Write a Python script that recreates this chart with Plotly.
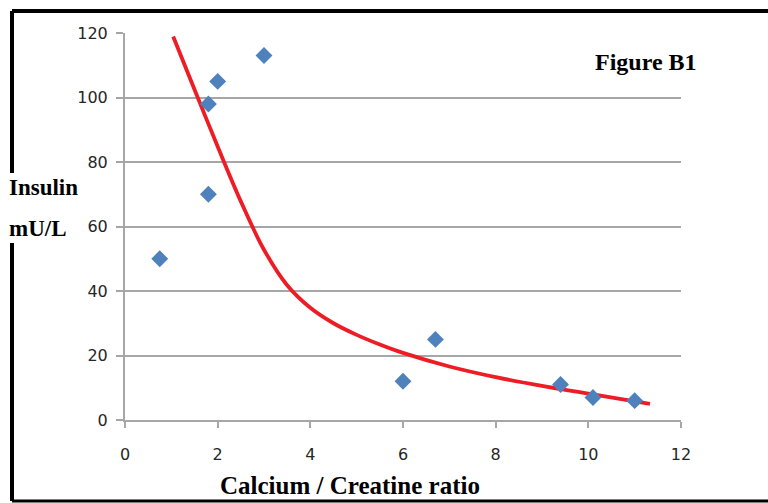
import plotly.graph_objects as go

# Data
ratio = [0.75, 1.8, 1.8, 2.0, 3.0, 6.0, 6.7, 9.4, 10.1, 11.0]
insulin = [50, 98, 70, 105, 113, 12, 25, 11, 7, 6]

trend_x = [1.04, 1.5, 2.0, 2.5, 3.0, 3.5, 4.0, 4.5, 5.0, 5.5, 6.0,
           7.0, 8.0, 9.0, 10.0, 11.33]
trend_y = [118.9, 102.5, 84.8, 67.8, 52.8, 41.8, 34.8, 30.0, 26.4, 23.4, 20.8,
           16.6, 13.3, 10.6, 8.2, 5.0]

x_ticks = [0, 2, 4, 6, 8, 10, 12]
y_ticks = [0, 20, 40, 60, 80, 100, 120]

W, H = 768, 503
L, R, T, B = 125, 681, 33, 420  # plot area in pixels


def px(x):
    return (x - L) / (R - L)


def py(y):
    return (B - y) / (B - T)


fig = go.Figure()
fig.add_trace(go.Scatter(
    x=trend_x, y=trend_y, mode="lines",
    line=dict(color="#EE1C25", width=3.8, shape="spline", smoothing=1.0),
    hoverinfo="skip", showlegend=False))
fig.add_trace(go.Scatter(
    x=ratio, y=insulin, mode="markers",
    marker=dict(symbol="diamond", size=13, color="#4F81BD"),
    showlegend=False))

tick_font = dict(family="DejaVu Sans", size=16, color="#262626")
serif_bold = "Liberation Serif"

fig.update_xaxes(
    range=[0, 12], tickvals=x_ticks, ticktext=[str(v) for v in x_ticks],
    showgrid=False, zeroline=False, showline=True, linecolor="#A6A6A6",
    linewidth=2, ticks="outside", ticklen=6, tickwidth=2, tickcolor="#A6A6A6",
    tickfont=tick_font, ticklabelstandoff=13)
fig.update_yaxes(
    range=[0, 120], tickvals=y_ticks, ticktext=[str(v) for v in y_ticks],
    showgrid=True, gridcolor="#A6A6A6", gridwidth=2, zeroline=False,
    showline=True, linecolor="#A6A6A6", linewidth=2, ticks="outside",
    ticklen=7, tickwidth=2, tickcolor="#A6A6A6", tickfont=tick_font,
    ticklabelstandoff=5)

annos = [
    dict(text="<b>Figure B1</b>", x=px(593), y=py(62), xanchor="left", size=24),
    dict(text="<b>Insulin</b>", x=px(7), y=py(187), xanchor="left", size=23),
    dict(text="<b>mU/L</b>", x=px(7), y=py(228), xanchor="left", size=23),
    dict(text="<b>Calcium / Creatine ratio</b>", x=px(350), y=py(485), xanchor="center", size=25),
]
for a in annos:
    fig.add_annotation(
        text=a["text"], x=a["x"], y=a["y"], xref="paper", yref="paper",
        xanchor=a["xanchor"], yanchor="middle", showarrow=False,
        font=dict(family=serif_bold, size=a["size"], color="#000000"))

# Frame lines around the picture (pixel positions)
frame = [
    (12, 11, W, 11, 4),     # top
    (12, 11, 12, 173, 4),   # left upper
    (12, 243, 12, 501, 4),  # left lower
    (12, 501, W, 501, 3),   # bottom
]
for x0, y0, x1, y1, w in frame:
    fig.add_shape(type="line", xref="paper", yref="paper",
                  x0=px(x0), y0=py(y0), x1=px(x1), y1=py(y1),
                  line=dict(color="#000000", width=w))

fig.update_layout(
    width=W, height=H,
    margin=dict(l=L, r=W - R, t=T, b=H - B, pad=0),
    plot_bgcolor="white", paper_bgcolor="white",
)

fig.write_html("out.html")
